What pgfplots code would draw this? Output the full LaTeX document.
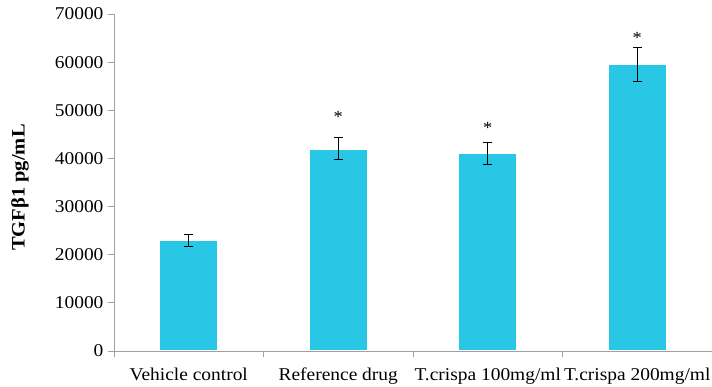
\documentclass[border=0pt]{standalone}
\usepackage{pgfplots}
\pgfplotsset{compat=1.18}
\usepackage{fontspec}
\setmainfont{Liberation Serif}[FakeStretch=1.08]
\definecolor{barcyan}{RGB}{40,199,230}
\definecolor{axgray}{RGB}{160,160,160}
\begin{document}
\begin{tikzpicture}[x=1pt,y=1pt]
\useasboundingbox (0,0) rectangle (712,386);
\begin{axis}[
  at={(114pt,35pt)}, anchor=south west,
  scale only axis, width=598pt, height=337pt,
  xmin=-0.5, xmax=3.5, ymin=0, ymax=70000,
  axis x line*=bottom, axis y line*=left,
  axis line style={axgray, line width=0.8pt},
  axis on top,
  xtick={0,1,2,3},
  xticklabels={Vehicle control, Reference drug, T.crispa 100mg/ml, T.crispa 200mg/ml},
  minor xtick={-0.5,0.5,1.5,2.5,3.5},
  x tick style={draw=none},
  minor x tick style={draw=axgray, line width=0.8pt},
  minor tick length=6pt,
  ytick={0,10000,...,70000},
  y tick style={axgray, line width=0.8pt},
  major tick length=6pt,
  tick align=outside,
  scaled y ticks=false,
  /pgf/number format/assume math mode=true,
  yticklabel={\pgfmathprintnumber[fixed,1000 sep={}]{\tick}},
  tick label style={font=\fontsize{18}{21}\selectfont, black},
  yticklabel style={xshift=-1pt},
  xticklabel style={yshift=-7pt},
  ylabel={\textbf{TGFβ1 pg/mL}},
  ylabel style={at={(axis description cs:-0.157,0.485)}, anchor=center, font=\fontsize{19}{22}\selectfont},
]
\addplot[ybar, bar width=0.39, fill=barcyan, draw=white, line width=1.5pt,
  error bars/.cd, y dir=both, y explicit,
  error bar style={black, line width=0.8pt},
  error mark options={rotate=90, mark size=4.5pt, black, line width=0.8pt}]
  coordinates {
  (0,23000) +- (0,1250)
  (1,42000) +- (0,2300)
  (2,41000) +- (0,2300)
  (3,59500) +- (0,3500)
  };
\node[anchor=base, font=\fontsize{17}{20}\selectfont] at (axis cs:1,47400) {*};
\node[anchor=base, font=\fontsize{17}{20}\selectfont] at (axis cs:2,45100) {*};
\node[anchor=base, font=\fontsize{17}{20}\selectfont] at (axis cs:3,63800) {*};
\end{axis}
\end{tikzpicture}
\end{document}
